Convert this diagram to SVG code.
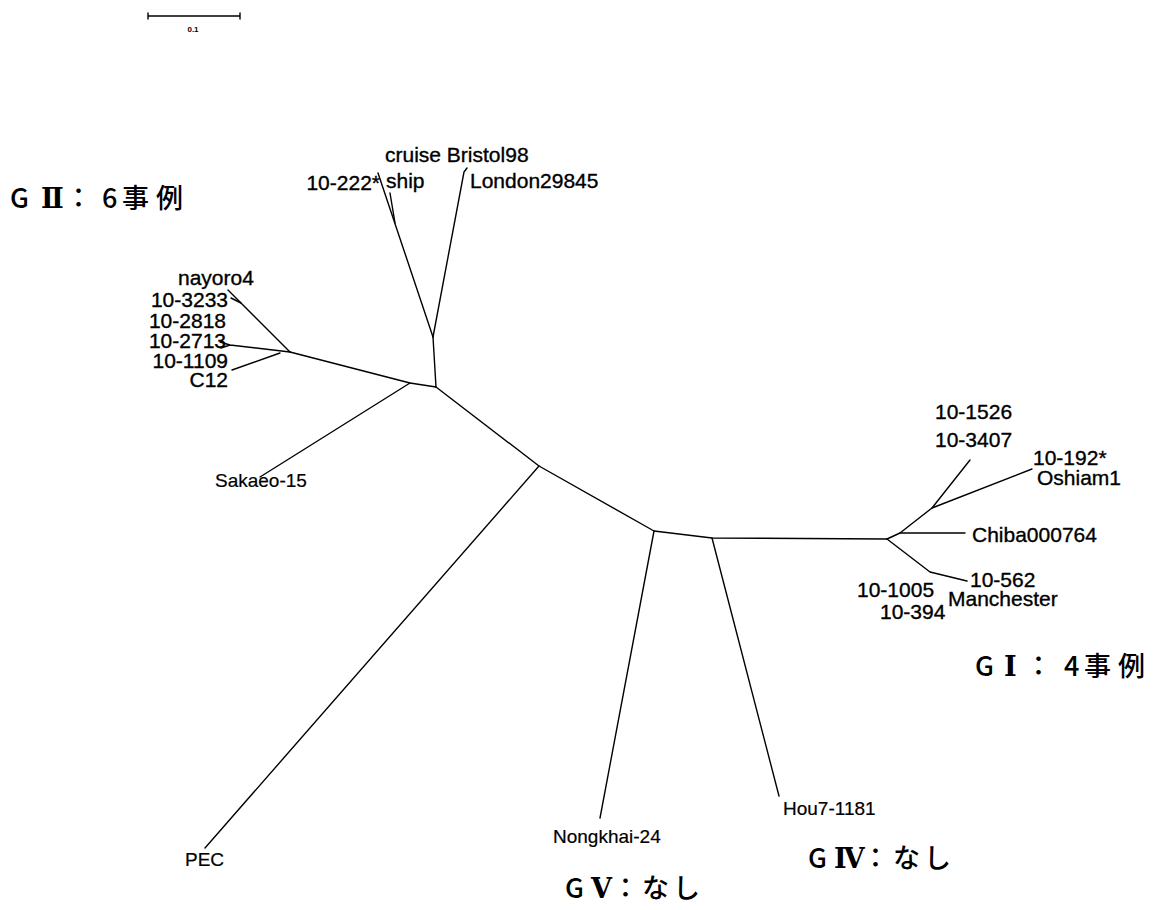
<svg xmlns="http://www.w3.org/2000/svg" width="1153" height="910" viewBox="0 0 1153 910">
<style>
.ln{stroke:#000;stroke-width:1.4;fill:none;stroke-linecap:round;stroke-linejoin:round}
.lb{font-family:"Liberation Sans",Arial,sans-serif;font-size:21px;fill:#000;stroke:#000;stroke-width:0.35}
.sm{font-family:"Liberation Sans",Arial,sans-serif;font-size:19px;fill:#000;stroke:#000;stroke-width:0.2}
.gp{font-family:"Noto Sans CJK JP","Noto Sans",sans-serif;font-size:27px;font-weight:500;fill:#000}
.rn{font-family:"DejaVu Serif","Liberation Serif",serif;font-weight:700}
</style>
<rect width="1153" height="910" fill="#fff"/>
<g id="scalebar">
<path class="ln" d="M148,16 H240 M148,13 V19 M240,13 V19"/>
<text x="193" y="32" text-anchor="middle" font-family="'Liberation Sans',Arial,sans-serif" font-size="8" font-weight="bold" fill="#000">0.1</text>
</g>
<g id="connectors">
<path class="ln" d="M290,352 L410,383 L436,387 L433,337"/>
<path class="ln" d="M433,337 L378,173"/>
<path class="ln" d="M433,337 L464,172 L467,168"/>
<path class="ln" d="M395,223 L390,193"/>
<path class="ln" d="M436,387 L539,466 L654,531 L712,538 L887,539"/>
<path class="ln" d="M539,466 L205,848"/>
<path class="ln" d="M654,531 L600,818"/>
<path class="ln" d="M712,538 L779,796"/>
<path class="ln" d="M410,383 L260,477"/>
<path class="ln" d="M290,352 L228,290"/>
<path class="ln" d="M241,303 L231,298"/>
<path class="ln" d="M290,352 L230,345 L220,342 M230,345 L221,348"/>
<path class="ln" d="M280,353 L232,370"/>
<path class="ln" d="M887,539 L900,533 L932,508 L970,460"/>
<path class="ln" d="M932,508 L1032,469"/>
<path class="ln" d="M900,533 L965,533"/>
<path class="ln" d="M887,539 L930,572 L967,581"/>
</g>
<g id="gII-label"><text class="gp" y="208"><tspan x="10">G</tspan><tspan class="rn" x="41">Ⅱ</tspan><tspan x="65">：</tspan><tspan x="102">6</tspan><tspan x="122">事</tspan><tspan x="156">例</tspan></text></g>
<g id="gI-label"><text class="gp" y="676"><tspan x="975">G</tspan><tspan class="rn" x="1004">Ⅰ</tspan><tspan x="1025">：</tspan><tspan x="1064">4</tspan><tspan x="1084">事</tspan><tspan x="1118">例</tspan></text></g>
<g id="gIV-label"><text class="gp" y="868"><tspan x="808">G</tspan><tspan class="rn" x="834">Ⅳ</tspan><tspan x="862">：</tspan><tspan x="893">な</tspan><tspan x="924">し</tspan></text></g>
<g id="gV-label"><text class="gp" y="898"><tspan x="565">G</tspan><tspan class="rn" x="591">Ⅴ</tspan><tspan x="612">：</tspan><tspan x="642">な</tspan><tspan x="673">し</tspan></text></g>
<g id="n-cruise"><text class="lb" x="385" y="162">cruise Bristol98</text><text class="lb" x="386" y="188">ship</text></g>
<g id="n-10-222"><text class="lb" x="380" y="190" text-anchor="end">10-222*</text></g>
<g id="n-london"><text class="lb" x="470" y="188">London29845</text></g>
<g id="n-nayoro4"><text class="lb" x="178" y="285">nayoro4</text></g>
<g id="n-10-3233"><text class="lb" x="228" y="307" text-anchor="end">10-3233</text></g>
<g id="n-10-2818"><text class="lb" x="226" y="328" text-anchor="end">10-2818</text></g>
<g id="n-10-2713"><text class="lb" x="226" y="348" text-anchor="end">10-2713</text></g>
<g id="n-10-1109"><text class="lb" x="228" y="368" text-anchor="end">10-1109</text></g>
<g id="n-c12"><text class="lb" x="228" y="387" text-anchor="end">C12</text></g>
<g id="n-sakaeo"><text class="sm" x="215" y="487">Sakaeo-15</text></g>
<g id="n-10-1526"><text class="lb" x="935" y="419">10-1526</text><text class="lb" x="935" y="447">10-3407</text></g>
<g id="n-oshiam"><text class="lb" x="1033" y="465">10-192*</text><text class="lb" x="1037" y="485">Oshiam1</text></g>
<g id="n-chiba"><text class="lb" x="972" y="542">Chiba000764</text></g>
<g id="n-manchester"><text class="lb" x="970" y="587">10-562</text><text class="lb" x="948" y="606">Manchester</text></g>
<g id="n-10-1005"><text class="lb" x="857" y="597">10-1005</text><text class="lb" x="880" y="619">10-394</text></g>
<g id="n-hou7"><text class="sm" x="783" y="815">Hou7-1181</text></g>
<g id="n-nongkhai"><text class="sm" x="553" y="843" font-size="18">Nongkhai-24</text></g>
<g id="n-pec"><text class="sm" x="185" y="866">PEC</text></g>
</svg>
